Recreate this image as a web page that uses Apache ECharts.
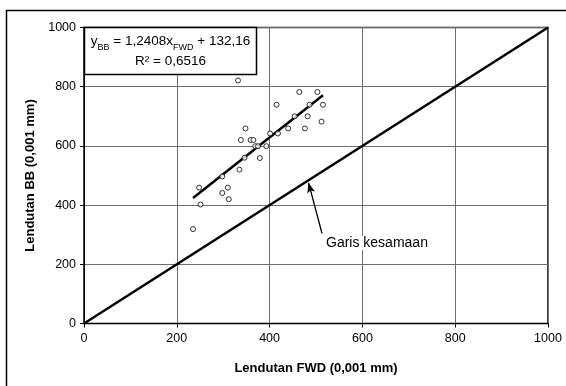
<!DOCTYPE html>
<html>
<head>
<meta charset="utf-8">
<script src="https://cdn.jsdelivr.net/npm/echarts@6/dist/echarts.min.js"></script>
<style>
  html, body { margin: 0; padding: 0; background: #fff; }
  #chart { width: 566px; height: 386px; }
</style>
</head>
<body>
<div id="chart"></div>
<script>
// Deflection measured with FWD (x) vs Benkelman Beam (y), units of 0.001 mm
const fwd = [332, 464, 503, 415, 486, 515, 454, 482, 512, 348, 440, 476, 401, 418, 338,
             359, 365, 369, 375, 393, 346, 379, 335, 298, 248, 310, 298, 251, 312, 235];
const bb  = [821, 782, 782, 739, 739, 739, 700, 700, 682, 659, 659, 659, 642, 642, 620,
             620, 620, 599, 599, 599, 560, 559, 520, 497, 459, 459, 441, 402, 420, 319];

// Linear fit stated on the chart: y = 1.2408 x + 132.16
const slope = 1.2408;
const intercept = 132.16;

// Equality line end points
const equality = [[0, 0], [1000, 1000]];

// Arrow pointing at the equality line
const arrowFrom = [513, 304];
const arrowTo = [484, 475];

const axisTicks = [0, 200, 400, 600, 800, 1000];

const points = fwd.map((x, i) => [x, bb[i]]);
const xMin = Math.min(...fwd);
const xMax = Math.max(...fwd);
const fitLine = [[xMin, slope * xMin + intercept], [xMax, slope * xMax + intercept]];

const FONT = '"Liberation Sans", Arial, sans-serif';

const chart = echarts.init(document.getElementById('chart'), null, { renderer: 'canvas' });

const axisCommon = {
  min: axisTicks[0],
  max: axisTicks[axisTicks.length - 1],
  interval: axisTicks[1] - axisTicks[0],
  axisLine: { show: true, onZero: false, lineStyle: { color: '#000', width: 1 } },
  axisTick: { show: true, inside: false, length: 4, lineStyle: { color: '#000' } },
  axisLabel: { color: '#000', fontFamily: FONT, fontSize: 12.5, formatter: v => String(v) },
  splitLine: { show: true, lineStyle: { color: '#6e6e6e', width: 1 } },
  nameLocation: 'middle',
  nameTextStyle: { color: '#000', fontFamily: FONT, fontSize: 13, fontWeight: 'bold' }
};

chart.setOption({
  animation: false,
  backgroundColor: '#fff',
  grid: {
    left: 84, right: 18, top: 27.5, bottom: 62.5,
    show: true, borderColor: '#000', borderWidth: 1.5, backgroundColor: 'transparent'
  },
  xAxis: Object.assign({}, axisCommon, {
    type: 'value',
    name: 'Lendutan FWD (0,001 mm)',
    nameGap: 38,
    axisLabel: Object.assign({}, axisCommon.axisLabel, { margin: 9 })
  }),
  yAxis: Object.assign({}, axisCommon, {
    type: 'value',
    name: 'Lendutan BB (0,001 mm)',
    nameGap: 45,
    axisLabel: Object.assign({}, axisCommon.axisLabel, { margin: 8 })
  }),
  series: [
    {
      name: 'Garis kesamaan',
      type: 'line',
      data: equality,
      symbol: 'none',
      lineStyle: { color: '#000', width: 2.5 },
      z: 3,
      markLine: {
        silent: true,
        symbol: ['none', 'arrow'],
        symbolSize: [6, 10],
        label: { show: false },
        lineStyle: { color: '#000', width: 1.3, type: 'solid' },
        data: [[{ coord: arrowFrom }, { coord: arrowTo }]]
      }
    },
    {
      name: 'Regresi',
      type: 'line',
      data: fitLine,
      symbol: 'none',
      lineStyle: { color: '#000', width: 2.5 },
      z: 4
    },
    {
      name: 'Data',
      type: 'scatter',
      data: points,
      symbol: 'circle',
      symbolSize: 5,
      itemStyle: { color: '#fff', borderColor: '#000', borderWidth: 1 },
      z: 5
    }
  ],
  graphic: [
    // outer frame of the figure
    {
      type: 'rect',
      shape: { x: 6.5, y: 10.5, width: 620, height: 420 },
      style: { fill: 'none', stroke: '#000', lineWidth: 1.5 },
      z: 1
    },
    // regression equation box
    {
      type: 'rect',
      shape: { x: 84.5, y: 27.5, width: 172, height: 47 },
      style: { fill: '#fff', stroke: '#000', lineWidth: 1.5 },
      z: 10
    },
    {
      type: 'text',
      x: 170.5, y: 43,
      style: {
        text: '{n|y}{s|BB}{n| = 1,2408x}{s|FWD}{n| + 132,16}',
        align: 'center', verticalAlign: 'middle',
        fill: '#000',
        rich: {
          n: { fontFamily: FONT, fontSize: 13.5, lineHeight: 17, verticalAlign: 'top', fill: '#000' },
          s: { fontFamily: FONT, fontSize: 9, lineHeight: 8, padding: [9, 0, 0, 0], verticalAlign: 'top', fill: '#000' }
        }
      },
      z: 11
    },
    {
      type: 'text',
      x: 170.5, y: 61.5,
      style: {
        text: 'R² = 0,6516',
        align: 'center', verticalAlign: 'middle',
        fontFamily: FONT, fontSize: 13.5, fill: '#000'
      },
      z: 11
    },
    {
      type: 'text',
      x: 326, y: 243,
      style: {
        text: 'Garis kesamaan',
        align: 'left', verticalAlign: 'middle',
        fontFamily: FONT, fontSize: 14, fill: '#000', backgroundColor: '#fff'
      },
      z: 10
    }
  ]
});
</script>
</body>
</html>
